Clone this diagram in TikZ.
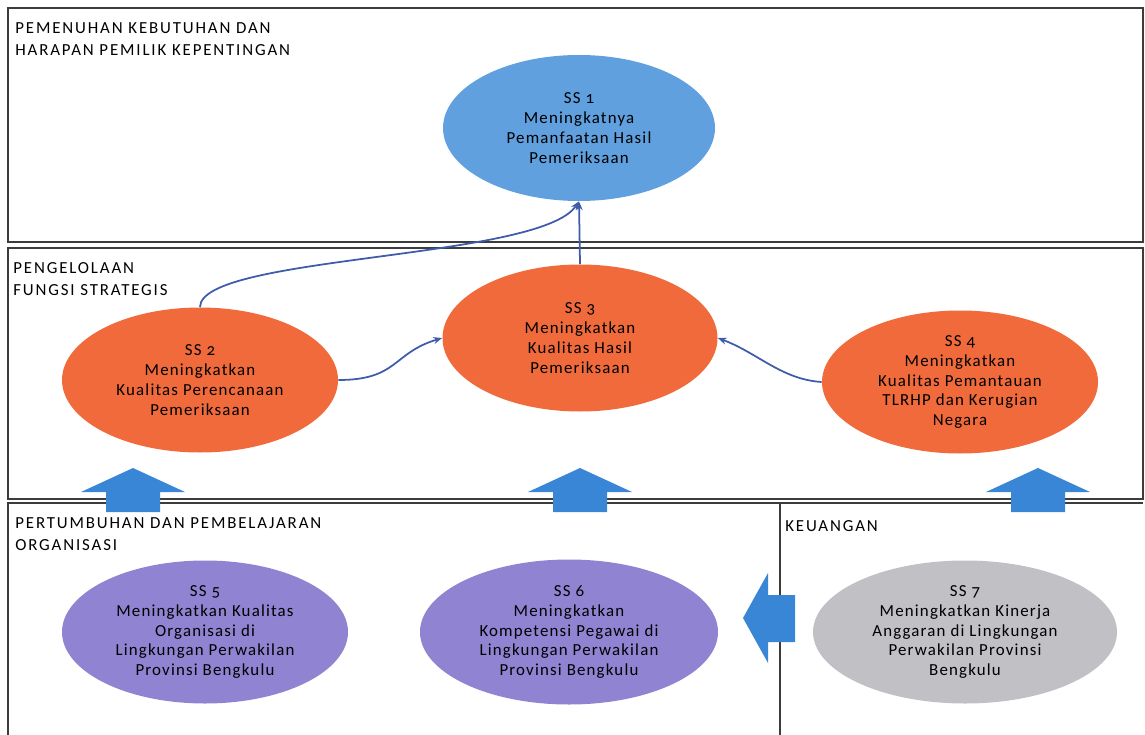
\documentclass[tikz,border=0pt]{standalone}
\usepackage{fontspec}
\setmainfont{Carlito}
\newfontfamily\headfont{Carlito}[LetterSpace=11]
\newfontfamily\goalfont{Carlito}[LetterSpace=7,Numbers=OldStyle]
\usetikzlibrary{shapes.geometric,arrows.meta}
\definecolor{ssblue}{RGB}{96,160,222}
\definecolor{ssorange}{RGB}{240,106,60}
\definecolor{sspurple}{RGB}{144,132,210}
\definecolor{ssgrey}{RGB}{192,192,197}
\definecolor{bigblue}{RGB}{58,134,214}
\definecolor{linkblue}{RGB}{62,92,170}
\definecolor{framegrey}{RGB}{60,60,60}
\tikzset{
  goal/.style={ellipse, inner sep=0pt, align=center,
    font=\goalfont\fontsize{9.6}{11.3}\selectfont, text=black},
  goalblue/.style={goal, fill=ssblue},
  goalorange/.style={goal, fill=ssorange},
  goalpurple/.style={goal, fill=sspurple},
  goalgrey/.style={goal, fill=ssgrey},
  perspective/.style={anchor=north west, inner sep=0pt, align=left,
    font=\headfont\fontsize{9.6}{12.5}\selectfont, text=black},
  frame/.style={draw=framegrey, line width=1pt},
  link/.style={draw=linkblue, line width=1pt, -{Stealth[length=5pt,width=4pt]}},
  bigarrow/.style={fill=bigblue}
}
\def\blockup(#1){\fill[bigarrow] (#1-0.54,-10.24) -- (#1-0.54,-9.84) -- (#1-1.04,-9.84) -- (#1,-9.36) -- (#1+1.04,-9.84) -- (#1+0.54,-9.84) -- (#1+0.54,-10.24) -- cycle;}

\begin{document}
\begin{tikzpicture}
		%%%%% START %%%%%
		\useasboundingbox (0, 0) rectangle (22.9, -14.7);
		
		% perspective frames
		\draw[frame] (0.16, -0.16) rectangle (22.86, -4.84);
		\draw[frame] (0.16, -4.96) rectangle (22.86, -9.98);
		\draw[frame] (0.16, -14.7) -- (0.16, -10.06) -- (22.86, -10.06);
		\draw[frame] (15.6, -10.06) -- (15.6, -14.7);
		
		\node[perspective] (pStake) at (0.3, -0.44) {PEMENUHAN KEBUTUHAN DAN\\HARAPAN PEMILIK KEPENTINGAN};
		\node[perspective] (pProc) at (0.26, -5.24) {PENGELOLAAN\\FUNGSI STRATEGIS};
		\node[perspective] (pGrow) at (0.3, -10.34) {PERTUMBUHAN DAN PEMBELAJARAN\\ORGANISASI};
		\node[perspective] (pFin) at (15.7, -10.4) {KEUANGAN};
		
		% strategic goals
		\node[goalblue, minimum width=5.44cm, minimum height=2.92cm] (ss1) at (11.58, -2.56)
			{SS 1\\Meningkatnya\\Pemanfaatan Hasil\\Pemeriksaan};
		\node[goalorange, minimum width=5.52cm, minimum height=2.9cm] (ss2) at (4.0, -7.6)
			{SS 2\\Meningkatkan\\Kualitas Perencanaan\\Pemeriksaan};
		\node[goalorange, minimum width=5.5cm, minimum height=2.94cm] (ss3) at (11.6, -6.76)
			{SS 3\\Meningkatkan\\Kualitas Hasil\\Pemeriksaan};
		\node[goalorange, minimum width=5.52cm, minimum height=2.86cm] (ss4) at (19.2, -7.64)
			{SS 4\\Meningkatkan\\Kualitas Pemantauan\\TLRHP dan Kerugian\\Negara};
		\node[goalpurple, minimum width=5.72cm, minimum height=2.86cm] (ss5) at (4.1, -12.64)
			{SS 5\\Meningkatkan Kualitas\\Organisasi di\\Lingkungan Perwakilan\\Provinsi Bengkulu};
		\node[goalpurple, minimum width=5.96cm, minimum height=2.9cm] (ss6) at (11.38, -12.64)
			{SS 6\\Meningkatkan\\Kompetensi Pegawai di\\Lingkungan Perwakilan\\Provinsi Bengkulu};
		\node[goalgrey, minimum width=6.08cm, minimum height=2.86cm] (ss7) at (19.3, -12.64)
			{SS 7\\Meningkatkan Kinerja\\Anggaran di Lingkungan\\Perwakilan Provinsi\\Bengkulu};
		
		% links
		\draw[link] (ss3.north) -- (ss1.south);
		\draw[link] (ss2.north) .. controls (4.0, -5.1) and (10.8, -5.2) .. (ss1.south);
		\draw[link] (ss2.east) .. controls +(1.2, 0) and +(-1.0, -0.3) .. (ss3.west);
		\draw[link] (ss4.west) .. controls +(-0.8, 0.05) and +(0.8, -0.3) .. (ss3.east);
		
		% block arrows
		\blockup(2.66)
		\blockup(11.6)
		\blockup(20.76)
		\fill[bigarrow] (15.9, -11.9) -- (15.36, -11.9) -- (15.36, -11.46) -- (14.86, -12.36)
			-- (15.36, -13.26) -- (15.36, -12.84) -- (15.9, -12.84) -- cycle;
		%%%%% END %%%%%
	\end{tikzpicture}
\end{document}
